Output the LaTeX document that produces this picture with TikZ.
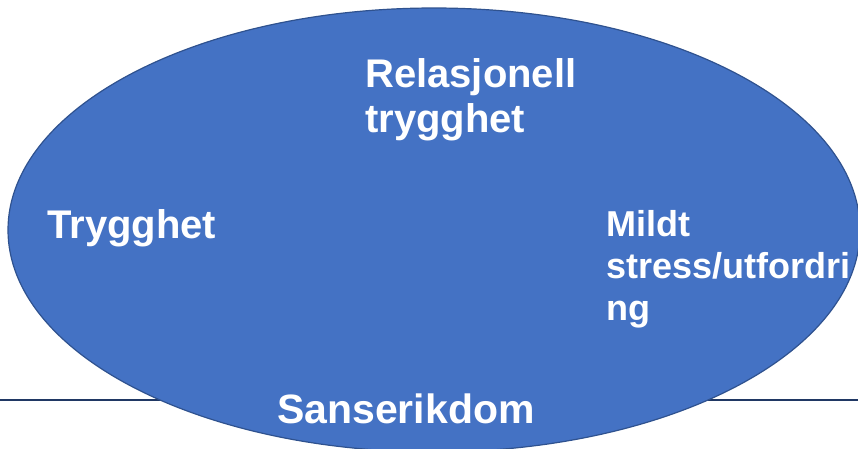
\documentclass[tikz,border=0pt]{standalone}
\usepackage{fontspec}
\setmainfont{Liberation Sans}

\definecolor{ovalblue}{HTML}{4472C4}
\definecolor{ovaledge}{HTML}{2F528F}
\definecolor{linenavy}{HTML}{203864}

\begin{document}
\begin{tikzpicture}[x=1pt, y=-1pt,
    lbl/.style={text=white, inner sep=0pt, anchor=base west, align=left,
        font=\bfseries\fontsize{40}{45}\selectfont},
    smalllbl/.style={lbl, font=\bfseries\fontsize{36}{42}\selectfont}]
    % Picture Frame
    \useasboundingbox (0,0) rectangle (858,448);
    \clip (0,0) rectangle (858,448);

    % Draw Base Line
    \coordinate (l1) at (0,400);
    \coordinate (l2) at (858,400);
    \draw[linenavy, line width=1.2pt] (l1) -- (l2);

    % Draw Oval
    \fill[ovalblue, draw=ovaledge, line width=1.2pt] (434,230) ellipse [x radius=426, y radius=222];

    % Oval Labels (multi-line nodes sit on their last baseline)
    % -- top and bottom
    \node[lbl] (relasjon) at (365,132) {Relasjonell\\trygghet};
    \node[lbl, font=\bfseries\fontsize{41}{45}\selectfont] (sanse) at (277,423) {Sanserikdom};

    % -- left and right
    \node[lbl] (trygg) at (47,238) {Trygghet};
    \node[smalllbl] (stress) at (606,320) {Mildt\\stress/utfordri\\ng};
\end{tikzpicture}
\end{document}
